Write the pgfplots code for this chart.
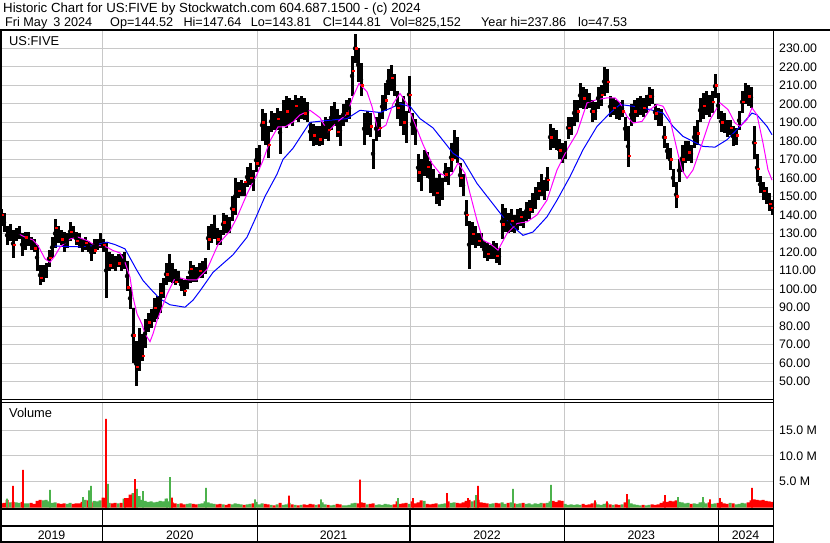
\documentclass[border=0pt]{standalone}
\usepackage{fontspec}
\setmainfont{Liberation Sans}
\usepackage{pgfplots}
\pgfplotsset{compat=1.18}
\usepackage{pgfplotstable}

\definecolor{gridgray}{RGB}{200,200,200}
\definecolor{volgreen}{RGB}{76,178,76}
\definecolor{volred}{RGB}{255,0,0}
\definecolor{mablue}{RGB}{0,0,255}
\definecolor{mamag}{RGB}{255,0,255}

% weekly price range (lo/hi) and volume in millions (d=1 up week, d=0 down week)
% x is the time position along the chart (years start at 102.3, 257.3, 410, 564.3, 718.3)
\pgfplotstableread{
x lo hi v d
1 134 143 0.8 0
4 131 141 0.9 0
7 124 134 1.5 0
10 126 135 1.0 1
13 117 132 1.1 0
16 126 133 1.0 1
19 127 134 0.9 1
22 118 130 1.1 0
25 121 131 0.8 1
28 123 131 0.8 1
31 121 128 0.9 0
34 120 127 0.7 0
37 110 124 1.3 0
40 102 113 1.5 0
43 104 113 1.4 1
46 106 114 1.5 1
49 112 121 1.2 1
52 117 128 0.9 1
55 122 138 1.0 1
58 125 134 0.8 0
61 124 132 0.7 0
64 120 131 0.8 0
67 122 130 0.7 1
70 126 136 0.9 1
73 127 134 0.7 0
76 124 131 0.8 0
79 122 130 0.8 0
82 120 127 1.1 0
85 121 128 1.5 1
88 120 126 1.4 0
91 115 125 1.0 0
94 119 127 1.3 1
97 121 127 1.2 1
100 122 130 1.4 1
103 120 127 1.9 0
106 95 125 1.8 0
109 110 120 0.9 1
112 111 119 0.8 0
115 110 118 0.9 0
118 112 119 0.8 1
121 110 119 0.9 0
124 111 120 1.7 1
127 99 115 1.8 0
130 89 101 2.5 0
133 60 90 2.8 0
136 47.53 72 2.6 0
139 56 79 2.2 1
142 61 76 1.5 1
145 68 84 1.3 1
148 77 87 1.1 1
151 79 89 1.2 1
154 82 95 1.0 1
157 84 96 1.1 1
160 87 103 1.3 1
163 95 106 1.2 1
166 102 114 1.7 1
169 104 119 1.2 1
172 103 114 1.0 0
175 102 111 0.8 0
178 103 110 0.7 1
181 99 106 0.8 0
184 96 105 0.6 0
187 100 107 0.7 1
190 103 115 0.8 1
193 104 113 0.7 0
196 104 112 0.6 0
199 106 114 0.7 1
202 106 115 0.8 1
205 108 117 1.2 1
208 121 134 1.0 1
211 125 135 0.8 1
214 127 140 0.7 1
217 124 133 0.6 0
220 124 132 0.7 0
223 129 141 0.6 1
226 130 140 0.5 0
229 130 139 0.7 0
232 137 150 0.6 1
235 140 160 0.8 1
238 149 158 0.7 1
241 150 159 0.6 1
244 150 157 0.5 0
247 155 166 0.6 1
250 156 168 0.7 1
253 153 164 0.8 0
256 163 176 1.1 1
259 166 178 0.6 1
262 180 197 0.8 1
265 178 195 0.7 0
268 171 188 0.6 0
271 185 196 0.5 1
274 186 195 0.4 0
277 186 198 0.6 1
280 173 196 0.9 0
283 188 202 0.5 1
286 187 204 0.6 1
289 189 203 0.9 1
292 188 202 0.6 0
295 191 205 0.5 1
298 190 203 0.4 0
301 192 204 0.5 1
304 191 203 0.6 0
307 190 201 0.5 0
310 180 190 0.7 0
313 177 189 0.6 0
316 178 188 0.5 1
319 177 188 0.6 0
322 178 190 1.0 1
325 181 193 0.6 1
328 180 192 0.5 0
331 186 199 0.4 1
334 188 201 0.5 1
337 182 197 0.7 0
340 177 194 0.6 0
343 188 200 0.4 1
346 190 202 0.4 1
349 192 203 0.5 1
352 204 226 0.8 1
355 222 237.86 0.9 1
358 212 230 0.8 0
361 204 222 1.0 0
364 178 195 0.9 0
367 183 196 0.6 1
370 182 195 0.7 0
373 165 181 0.8 0
376 180 193 0.5 1
379 182 195 0.6 1
382 192 205 0.5 1
385 196 211 0.7 1
388 205 219 0.6 1
391 207 221 0.5 1
394 204 216 0.6 0
397 192 207 1.2 0
400 188 201 0.7 0
403 183 204 0.8 0
406 179 196 0.9 0
409 195 215 0.7 1
412 183 195 1.2 0
415 178 192 0.8 0
418 158 173 1.0 0
421 153 170 1.4 0
424 161 175 1.3 1
427 160 174 0.7 0
430 152 169 0.6 0
433 150 165 0.7 0
436 146 160 0.8 0
439 145 162 0.6 1
442 148 160 0.7 1
445 158 168 0.8 1
448 156 166 1.2 0
451 163 179 0.9 1
454 170 186 1.0 1
457 168 182 0.9 0
460 155 168 0.8 0
463 150 162 1.0 0
466 134 148 1.3 0
469 111 137 1.5 0
472 124 136 1.2 1
475 122 134 1.4 0
478 123 130 1.5 0
481 122 130 1.0 0
484 117 126 0.9 0
487 115 125 0.8 0
490 116 124 0.7 1
493 116 126 0.8 1
496 114 125 0.9 0
499 113 122 0.8 0
502 127 146 1.0 1
505 131 144 0.7 1
508 130 141 0.9 0
511 131 143 1.0 1
514 130 140 0.8 0
517 132 143 0.7 1
520 134 144 0.8 1
523 133 142 0.9 0
526 137 147 0.7 1
529 138 148 0.8 1
532 141 152 0.6 1
535 143 155 0.8 1
538 148 158 0.7 1
541 150 162 0.9 1
544 148 159 0.8 0
547 153 166 0.9 1
550 175 189 1.2 1
553 176 187 1.3 0
556 175 186 1.1 0
559 170 181 1.4 0
562 168 179 1.3 0
565 170 180 0.7 1
568 181 193 0.5 1
571 183 193 0.6 1
574 188 202 0.5 1
577 190 202 0.6 1
580 198 211 0.5 1
583 197 209 0.7 0
586 197 208 0.5 0
589 198 206 0.6 0
592 190 202 0.8 0
595 191 201 1.0 1
598 197 209 0.6 1
601 199 210 0.5 1
604 204 220 0.7 1
607 206 219 0.9 1
610 193 204 0.6 0
613 194 203 0.5 1
616 192 202 0.6 0
619 191 201 0.5 0
622 193 202 0.6 1
625 180 193 1.0 0
628 166 188 1.3 0
631 188 200 0.8 1
634 190 202 0.6 1
637 193 203 0.5 1
640 194 204 0.4 1
643 193 203 0.5 0
646 195 205 0.4 1
649 199 209 0.5 1
652 200 208 0.6 0
655 191 200 0.5 0
658 188 198 0.6 0
661 188 197 0.9 0
664 176 188 1.2 0
667 170 179 1.1 0
670 164 176 1.3 0
673 155 165 1.2 0
676 144 158 1.4 0
679 158 170 1.1 1
682 163 178 1.0 1
685 168 180 0.8 1
688 169 180 0.9 1
691 168 178 0.7 0
694 176 188 0.8 1
697 178 191 0.7 1
700 190 203 1.0 1
703 192 206 1.1 1
706 194 207 0.8 1
709 193 205 1.0 0
712 195 207 0.7 1
715 203 216 0.8 1
718 192 206 0.9 0
721 185 196 1.1 0
724 184 195 0.8 0
727 182 191 0.7 0
730 183 191 0.9 1
733 177 188 0.8 0
736 178 187 0.6 1
739 186 196 0.7 1
742 195 207 0.9 1
745 200 211 0.8 1
748 199 210 1.0 0
751 198 209 1.4 0
754 170 188 1.6 0
757 158 173 1.5 0
760 152 161 1.4 0
763 148 158 1.5 0
766 146 155 1.3 0
769 142 152 1.2 0
772 140 148 1.1 0
}\bars

\pgfplotsset{
  panel/.style={
    scale only axis, width=772bp,
    xmin=1, xmax=773,
    axis line style={draw=none}, major tick length=0pt,
    xtick={102.3,257.3,410,564.3,718.3}, xticklabels={},
    xmajorgrids, ymajorgrids,
    grid style={gridgray, line width=1bp},
    yticklabel pos=right,
    yticklabel style={anchor=west, inner sep=0pt, xshift=6bp,
      font=\fontsize{12.4}{14}\selectfont},
    scaled y ticks=false,
  },
}

\newcommand\hdr{\fontsize{13.3}{15}\selectfont}
\newcommand\txt{\fontsize{12.7}{14}\selectfont}
\newcommand\lbl{\fontsize{12.9}{14}\selectfont}
\newcommand\yr{\fontsize{12.4}{14}\selectfont}

\begin{document}
\begin{tikzpicture}[x=1bp,y=-1bp]
\path[use as bounding box, fill=white] (0,0) rectangle (830,543);

% ---------- price panel ----------
\begin{axis}[panel, at={(1bp,-400bp)}, anchor=south west, height=369bp,
  ymin=40.1, ymax=239.3, ytick={50,60,...,230},
  yticklabel style={/pgf/number format/.cd, fixed, fixed zerofill, precision=2,
    assume math mode=true}]
% daily-range bars, one per week
\addplot[only marks, mark=none,
  error bars/.cd, y dir=both, y explicit, error mark=none,
  error bar style={draw=black, line width=3bp}]
  table[x=x, y expr={(\thisrow{lo}+\thisrow{hi})/2},
        y error expr={(\thisrow{hi}-\thisrow{lo})/2}] {\bars};
% closing ticks
\addplot[only marks, mark=square*, mark size=0.75bp, volred, mark options={draw=none}]
coordinates {(2,140) (14,124) (26,128) (35,122) (41,106) (50,117) (56,133)
(62,127) (71,131) (77,126) (86,125) (95,121) (104,124) (110,113) (119,114)
(128,101) (134,75) (137,58) (143,64) (149,82) (155,90) (161,98) (167,108)
(176,104) (185,99) (191,111) (200,110) (209,127) (218,127) (224,136) (233,143)
(239,153) (245,158) (251,160) (257,168) (263,190) (269,178) (278,192) (287,196)
(296,199) (305,195) (314,183) (320,181) (329,186) (338,185) (347,195) (353,218)
(356,230) (362,210) (371,188) (380,187) (386,202) (392,214) (398,198) (404,190)
(410,205) (419,163) (428,166) (437,152) (446,162) (452,170) (461,160) (467,140)
(473,130) (479,126) (488,119) (497,118) (503,135) (512,137) (521,139) (530,143)
(539,153) (548,159) (551,182) (560,175) (569,187) (578,196) (584,203) (593,196)
(602,205) (608,212) (614,198) (623,196) (629,172) (635,196) (644,198) (650,204)
(656,195) (665,182) (671,170) (677,150) (683,170) (689,174) (698,184) (704,199)
(713,201) (716,210) (722,190) (731,187) (737,183) (743,201) (749,204) (755,179)
(758,165) (764,153) (770,146) (772,144)};
% long moving average
\addplot[mablue, line width=1bp] coordinates {
(55,123.2) (65,123) (80,122.8) (95,123.5) (100,124.5) (107,125.3) (115,124)
(125,121.7) (137,110) (143,104.6) (152,99.2) (160,94.7) (170,91.5) (185,90.2)
(193,94) (200,99) (213,109) (233,118.5) (247,128) (257,140) (265,150)
(277,162) (283,170) (293,176) (310,190) (327,191) (347,192) (360,196.5)
(380,195.3) (390,197.5) (400,200) (410,198.6) (420,192) (433,187) (447,177.5)
(453,173.3) (463,169.7) (477,157) (490,148) (503,139) (517,131.8) (523,129)
(533,130.8) (547,139) (557,148) (570,160.7) (583,175.2) (597,187.8) (610,195)
(620,199.6) (633,198.7) (650,196.9) (663,195) (673,187.8) (683,182.4)
(693,179.7) (703,177) (715,176.6) (727,180.6) (740,187.8) (752,195) (757,194)
(767,187.8) (772,183.3)};
% short moving average
\addplot[mamag, line width=1bp] coordinates {
(18,130) (25,128) (33,126.5) (38,123.5) (45,116.3) (50,114.5) (55,118) (60,122.6)
(70,127) (78,128) (88,126) (95,123.5) (100,123.5) (107,122.6) (113,120.8)
(120,119.5) (125,114.5) (130,106.4) (133,95.6) (137,86.6) (142,81) (145,75.8)
(150,71.6) (153,75.8) (157,83) (167,97) (175,106) (180,106) (187,105) (197,105)
(207,110.6) (218,124) (230,131.4) (237,138.7) (247,151.3) (257,162) (263,169.4)
(270,180) (278,187.5) (285,187.5) (293,190.2) (300,194) (310,196.5) (320,192.5)
(328,185) (337,190) (347,194.5) (353,203.8) (359,211) (367,206.5) (372,198.5)
(378,185.7) (386,188.5) (393,200) (400,205.6) (407,200) (415,189) (423,178)
(432,167.8) (440,162.4) (448,160.5) (452,162) (458,168) (465,162.5) (470,151.6)
(477,137) (483,126.3) (490,124.5) (498,121) (507,130) (517,135.4) (527,136.3)
(537,140) (547,148) (557,164.3) (567,175.2) (577,184.2) (587,200.5) (597,202.3)
(607,203.2) (615,203.2) (620,200.5) (627,193.2) (633,189.6) (642,190.5)
(650,196.9) (657,199.6) (663,198.7) (670,191.4) (677,175.2) (682,164.3)
(687,159.8) (693,164.3) (700,175.2) (710,191.4) (720,200.5) (728,196.9)
(735,189.6) (740,187.8) (747,191.4) (752,197.8) (757,194) (763,178.8)
(768,164.3) (772,158.8)};
\end{axis}

% ---------- volume panel ----------
\begin{axis}[panel, at={(1bp,-507.5bp)}, anchor=south west, height=105.5bp,
  ymin=0, ymax=20.45, ytick={5,10,15},
  yticklabels={5.0 M,10.0 M,15.0 M}]
\addplot[ybar, bar shift=0pt, bar width=3bp, fill=volgreen, draw=none]
  table[x=x, y expr={\thisrow{v}*\thisrow{d}}] {\bars};
\addplot[ybar, bar shift=0pt, bar width=3bp, fill=volred, draw=none]
  table[x=x, y expr={\thisrow{v}*(1-\thisrow{d})}] {\bars};
% single heavy sessions
\addplot[ybar, bar shift=0pt, bar width=1.6bp, fill=volred, draw=none] coordinates {
(13,4.2) (23,7.3) (106,17.2) (125,1.8) (135,5.5) (172,1.9) (289,2.3) (360,5.4)
(413,1.8) (447,2.8) (468,1.8) (478,4.2) (595,1.4) (607,1.2) (627,2.6) (665,2.4)
(710,1.6) (720,1.8) (752,3.8)};
\addplot[ybar, bar shift=0pt, bar width=1.6bp, fill=volgreen, draw=none] coordinates {
(7,1.7) (50,3.4) (83,2.0) (89,3.3) (91,4.2) (108,4.6) (133,2.8) (137,3.6)
(143,3.2) (167,1.7) (170,5.9) (206,3.8) (255,1.6) (321,1.6) (398,1.8) (476,2.4)
(513,3.6) (551,4.4) (629,1.6) (678,2.0) (703,2.0)};
\end{axis}

% ---------- frame, header and date strip ----------
\draw[line width=2bp] (0,30.5) -- (830,30.5);
\draw[line width=2bp] (1,30) -- (1,542.5);
\draw[line width=1.6bp] (773.3,30) -- (773.3,542.5);
\draw[line width=0.9bp] (1,399.8) -- (773,399.8);
\draw[line width=0.9bp] (1,402.3) -- (773,402.3);
\draw[line width=2bp] (1,509.2) -- (773,509.2);
\draw[line width=2bp] (1,526) -- (773,526);
\draw[line width=2bp] (1,541.8) -- (773,541.8);
\foreach \yx in {102.3,257.3,410,564.3,718.3}
  \draw[line width=1.6bp] (\yx,509) -- (\yx,542);

\begin{scope}[every node/.style={inner sep=0pt}]
\node[anchor=base west] at (3,12.7)
  {\hdr Historic Chart for US:FIVE by Stockwatch.com 604.687.1500 - (c) 2024};
\node[anchor=base west] at (5,26.7) {\txt Fri May};
\node[anchor=base west] at (53.3,26.7) {\txt 3 2024};
\node[anchor=base west] at (110,26.7) {\txt Op=144.52};
\node[anchor=base west] at (183.3,26.7) {\txt Hi=147.64};
\node[anchor=base west] at (250.7,26.7) {\txt Lo=143.81};
\node[anchor=base west] at (322.7,26.7) {\txt Cl=144.81};
\node[anchor=base west] at (390,26.7) {\txt Vol=825,152};
\node[anchor=base west] at (481,26.7) {\txt Year hi=237.86};
\node[anchor=base west] at (578,26.7) {\txt lo=47.53};
\node[anchor=base west] at (9,46) {\lbl US:FIVE};
\node[anchor=base west] at (9,417) {\lbl Volume};
\node[anchor=base] at (51.6,539) {\yr 2019};
\node[anchor=base] at (179.8,539) {\yr 2020};
\node[anchor=base] at (333.6,539) {\yr 2021};
\node[anchor=base] at (487.1,539) {\yr 2022};
\node[anchor=base] at (641.3,539) {\yr 2023};
\node[anchor=base] at (745.6,539) {\yr 2024};
\end{scope}
\end{tikzpicture}
\end{document}
